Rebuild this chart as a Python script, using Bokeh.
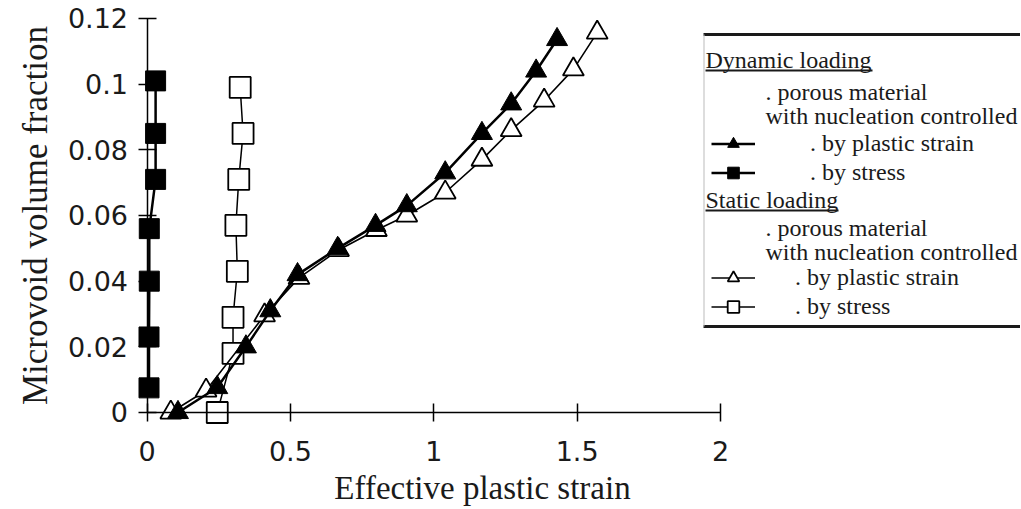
from bokeh.plotting import figure
from bokeh.models import (Range1d, FixedTicker, Label, BoxAnnotation, Legend, LegendItem)
from bokeh.embed import file_html
from bokeh.resources import INLINE

# ---- data ----
dyn_strain_x = [0.108, 0.245, 0.345, 0.43, 0.525, 0.665, 0.797, 0.906, 1.04, 1.168, 1.27, 1.357, 1.43]
dyn_strain_y = [0.0, 0.0076, 0.020, 0.031, 0.042, 0.050, 0.057, 0.063, 0.073, 0.085, 0.094, 0.104, 0.1136]

dyn_stress_x = [0.007, 0.007, 0.008, 0.008, 0.03, 0.03, 0.03]
dyn_stress_y = [0.0075, 0.023, 0.040, 0.056, 0.071, 0.085, 0.101]

sta_strain_x = [0.083, 0.206, 0.41, 0.53, 0.668, 0.80, 0.906, 1.04, 1.168, 1.27, 1.385, 1.487, 1.57]
sta_strain_y = [0.0, 0.0067, 0.0296, 0.041, 0.0495, 0.0556, 0.060, 0.067, 0.077, 0.086, 0.095, 0.1045, 0.1157]

sta_stress_x = [0.245, 0.30, 0.30, 0.315, 0.31, 0.32, 0.335, 0.325]
sta_stress_y = [0.0, 0.018, 0.029, 0.043, 0.057, 0.071, 0.085, 0.099]

x_ticks = [0, 0.5, 1, 1.5, 2]
y_ticks = [0, 0.02, 0.04, 0.06, 0.08, 0.1, 0.12]
y_tick_labels = {0: "0", 0.02: "0.02", 0.04: "0.04", 0.06: "0.06", 0.08: "0.08", 0.1: "0.1", 0.12: "0.12"}
x_tick_labels = {0: "0", 0.5: "0.5", 1: "1", 1.5: "1.5", 2: "2"}

x_title = "Effective plastic strain"
y_title = "Microvoid volume fraction"

W, H = 1020, 508
SERIF = "Liberation Serif"
SANS = "DejaVu Sans"
INK = "#1a1a1a"

p = figure(width=W, height=H, output_backend="svg", toolbar_location=None,
           x_range=Range1d(-0.5109, 3.0462), y_range=Range1d(-0.02924, 0.12548),
           min_border_left=0, min_border_right=0, min_border_top=0, min_border_bottom=0)
p.outline_line_color = None
p.grid.visible = False
p.background_fill_color = "white"

for ax, ticks, labels, bnd in ((p.xaxis[0], x_ticks, x_tick_labels, (0, 2)),
                               (p.yaxis[0], y_ticks, y_tick_labels, (0, 0.12))):
    ax.ticker = FixedTicker(ticks=ticks)
    ax.major_label_overrides = labels
    ax.fixed_location = 0
    ax.bounds = bnd
    ax.axis_line_color = "black"
    ax.axis_line_width = 1.5
    ax.major_tick_line_width = 1.5
    ax.major_tick_line_color = "black"
    ax.minor_tick_line_color = None
    ax.major_tick_in = 9
    ax.major_tick_out = 9
    ax.major_label_text_font = SANS
    ax.major_label_text_font_size = "27px"
    ax.major_label_text_color = INK
    ax.axis_label_text_font = SERIF
    ax.axis_label_text_font_style = "normal"
    ax.axis_label_text_font_size = "35px"
    ax.axis_label_text_color = INK

p.yaxis.axis_label = y_title
p.xaxis.major_label_standoff = 20
p.yaxis.major_label_standoff = 10
p.yaxis.axis_label_standoff = 10

# ---- series ----
r_ds_line = p.line(dyn_stress_x, dyn_stress_y, line_color="black", line_width=2.5)
r_ds_mark = p.scatter(dyn_stress_x, dyn_stress_y, marker="square", size=20,
                      fill_color="black", line_color="black")

r_ss_line = p.line(sta_stress_x, sta_stress_y, line_color="black", line_width=1.5)
r_ss_mark = p.scatter(sta_stress_x, sta_stress_y, marker="square", size=21,
                      fill_color="white", line_color="black", line_width=1.8)

r_st_line = p.line(sta_strain_x, sta_strain_y, line_color="black", line_width=1.6)
r_st_mark = p.scatter(sta_strain_x, sta_strain_y, marker="triangle", size=21,
                      fill_color="white", line_color="black", line_width=1.8)

r_dt_line = p.line(dyn_strain_x, dyn_strain_y, line_color="black", line_width=2.5)
r_dt_mark = p.scatter(dyn_strain_x, dyn_strain_y, marker="triangle", size=21,
                      fill_color="black", line_color="black")

# x-axis title (placed as text under the axis, where the reference has it)
p.add_layout(Label(text=x_title, x=482, y=H - 487, x_units="screen", y_units="screen",
                   text_font=SERIF, text_font_size="33px", text_color=INK,
                   text_align="center", text_baseline="middle"))

# ---- legend block (layout in screen pixels; frame fills the canvas) ----
def sx(px):
    return px
def sy(py):
    return H - py

def sbox(l, r, t, b, color):
    p.add_layout(BoxAnnotation(left=sx(l), right=sx(r), top=sy(t), bottom=sy(b),
                               left_units="screen", right_units="screen",
                               top_units="screen", bottom_units="screen",
                               fill_color=color, fill_alpha=1.0, line_color=None, level="overlay"))

box_l, box_r, box_t, box_b = 703, W, 34, 326
sbox(box_l, box_r, box_t, box_b, "white")
for t in (box_t, box_b):
    sbox(box_l, box_r, t - 1.5, t + 1.5, INK)
sbox(box_l, box_l + 1, box_t, box_b, "#bbbbbb")

def txt(s, x, y):
    p.add_layout(Label(text=s, x=sx(x), y=sy(y), x_units="screen", y_units="screen",
                       text_font=SERIF, text_font_size="24px", text_color=INK,
                       text_baseline="middle", text_align="left", level="overlay"))

txt("Dynamic loading", 705, 59)
sbox(705, 872, 69, 71, INK)
txt(". porous material", 765, 91)
txt("with nucleation controlled", 765, 115)
txt("Static loading", 705, 199)
sbox(705, 838, 209, 211, INK)
txt(". porous material", 765, 227)
txt("with nucleation controlled", 765, 251)

GH = 29
def leg(items, x, y_top, standoff):
    lg = Legend(items=items, location=(sx(x), sy(y_top) - 2 * GH), orientation="vertical",
                glyph_width=44, glyph_height=GH, spacing=0, padding=0, margin=0,
                label_standoff=standoff, label_text_font=SERIF, label_text_font_size="24px",
                label_text_color=INK, label_height=GH,
                border_line_color=None, background_fill_alpha=0.0)
    p.add_layout(lg, "center")

leg([LegendItem(label=". by plastic strain", renderers=[r_dt_line, r_dt_mark]),
     LegendItem(label=". by stress", renderers=[r_ds_line, r_ds_mark])], 711, 128.5, 55)
leg([LegendItem(label=". by plastic strain", renderers=[r_st_line, r_st_mark]),
     LegendItem(label=". by stress", renderers=[r_ss_line, r_ss_mark])], 711, 262.5, 40)

open("out.html", "w").write(file_html(p, INLINE))
